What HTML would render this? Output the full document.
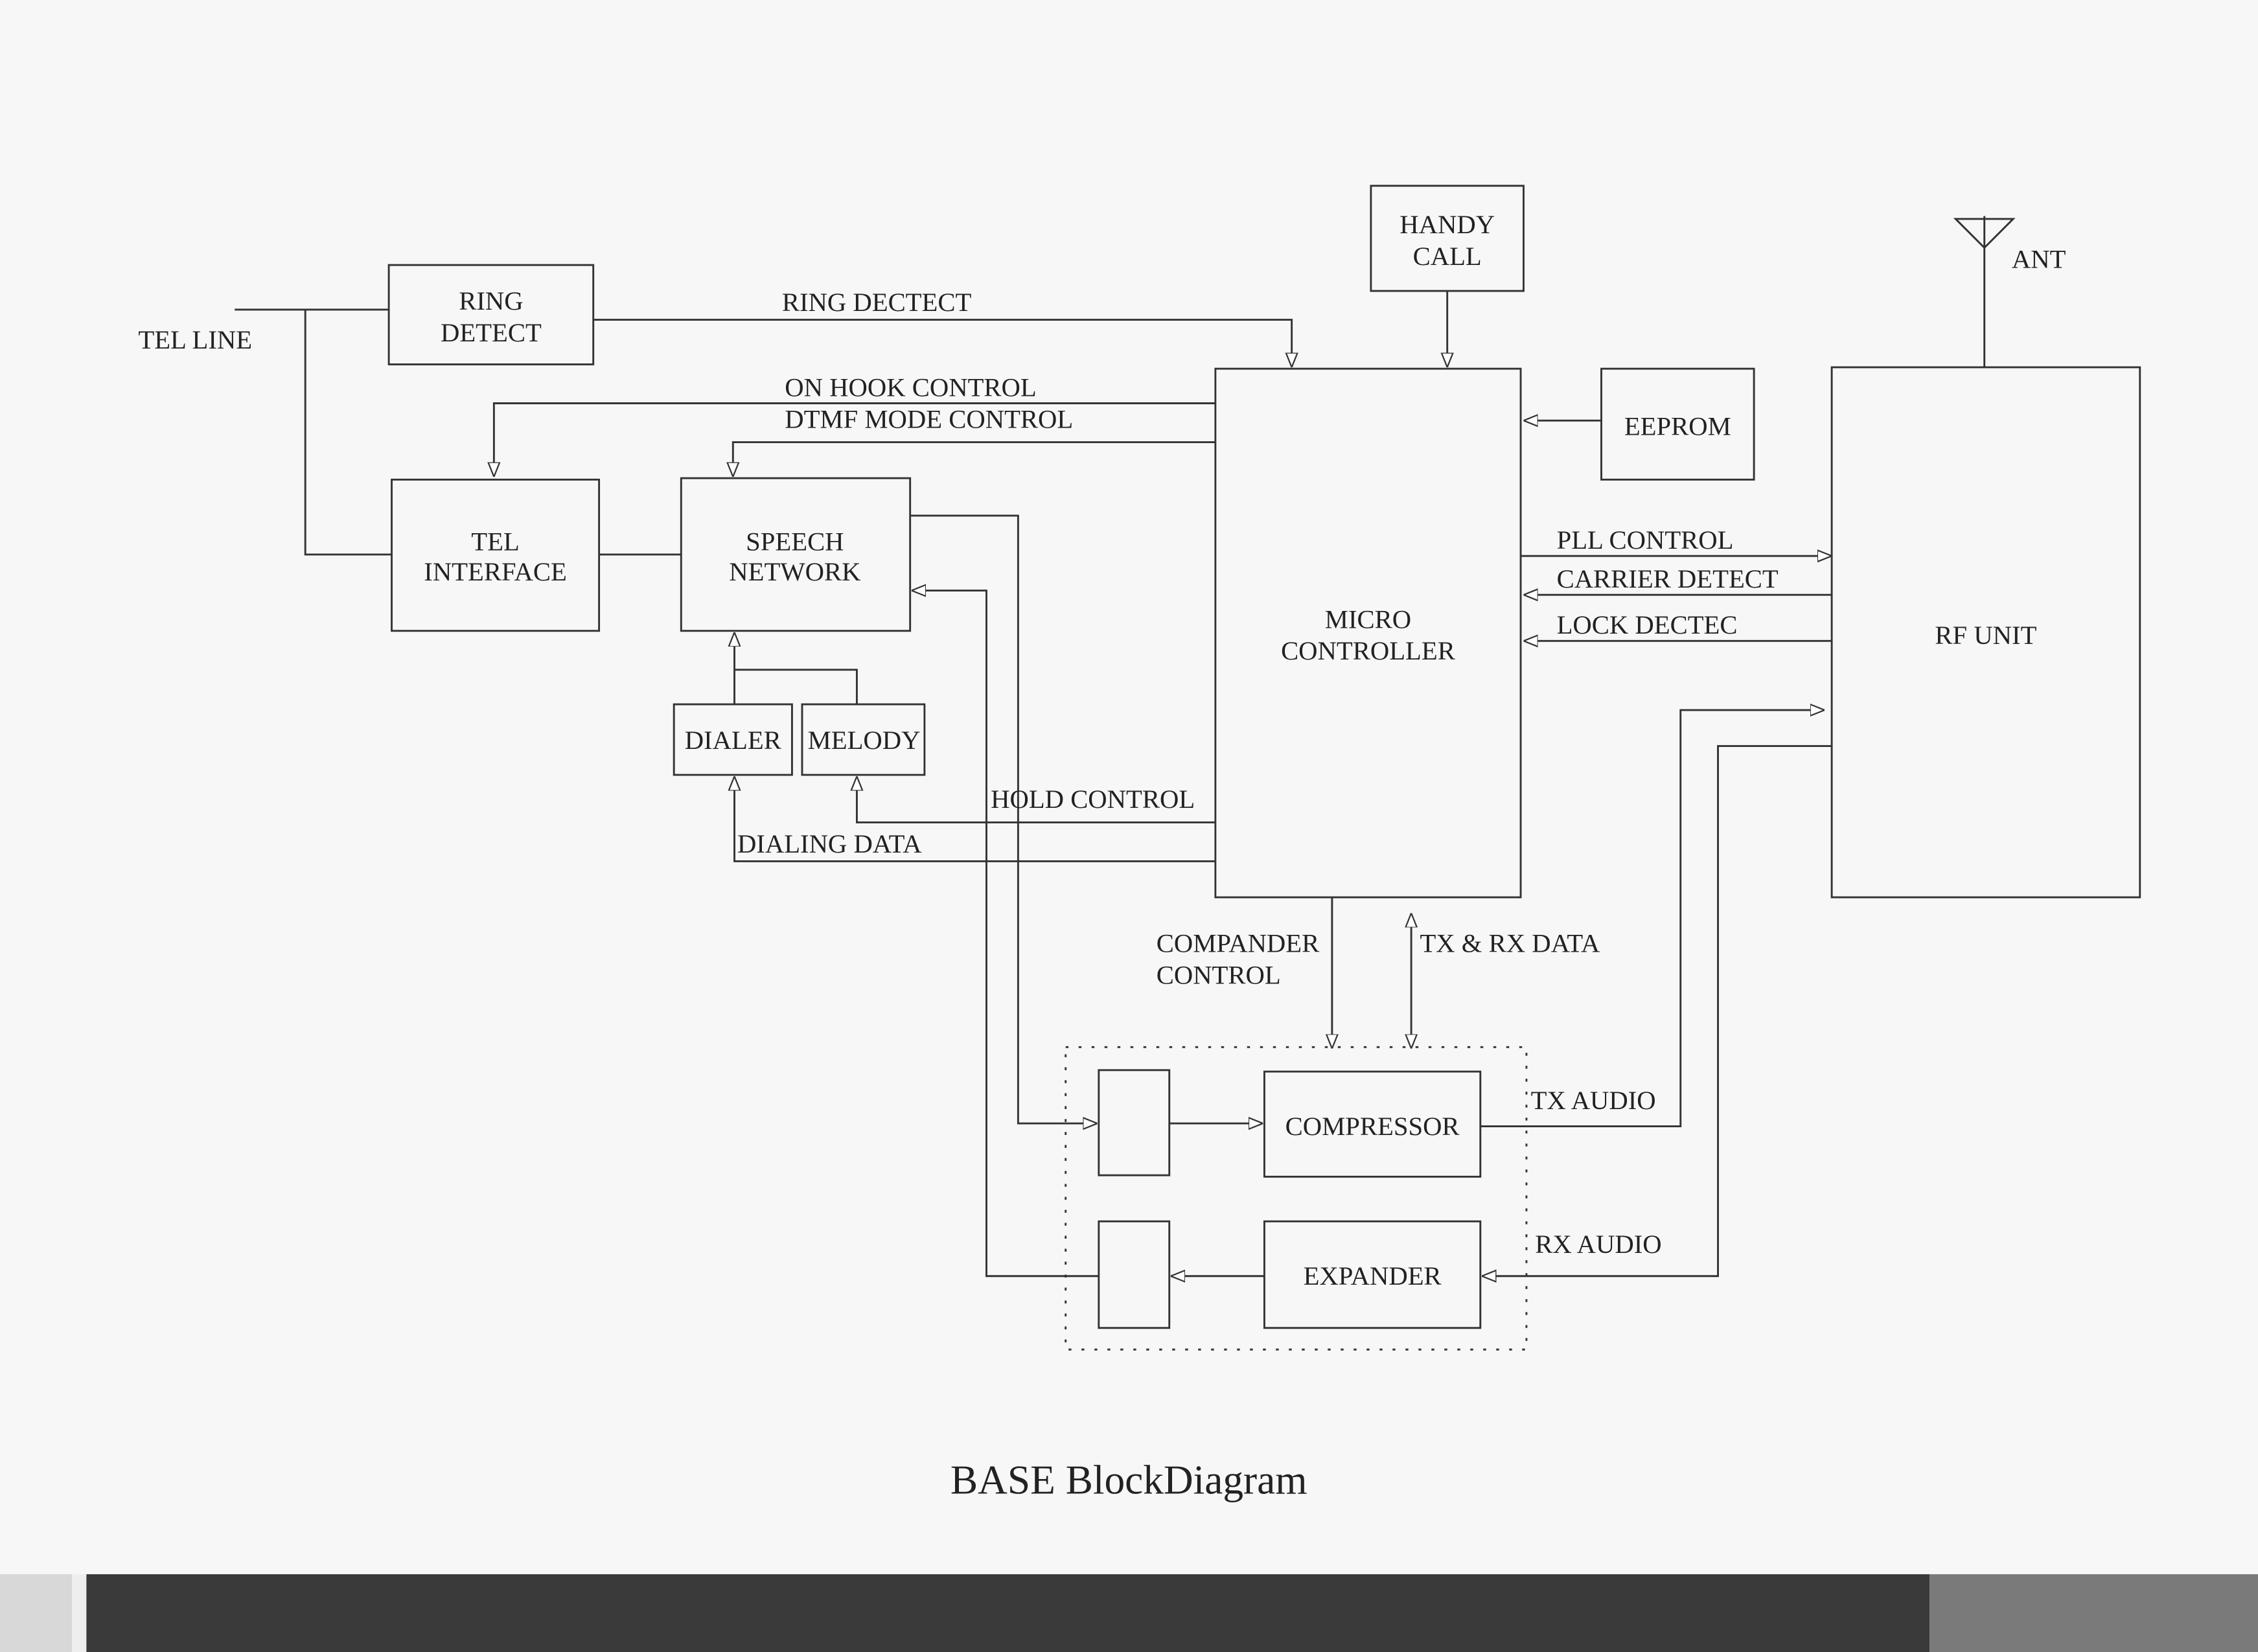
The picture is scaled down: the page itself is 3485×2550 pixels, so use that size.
<!DOCTYPE html>
<html><head><style>html,body{margin:0;padding:0;background:#f7f7f7}svg{display:block}</style></head>
<body>
<svg width="3485" height="2550" viewBox="0 0 1568 1147" preserveAspectRatio="none" xmlns="http://www.w3.org/2000/svg" font-family="Liberation Serif, serif" font-size="18.3" fill="#222">
<defs>
<marker id="a" viewBox="0 0 10 10" refX="10" refY="5" markerWidth="10" markerHeight="10" markerUnits="userSpaceOnUse" orient="auto"><path d="M0,1 L10,5 L0,9 Z" fill="#fff" stroke="#333" stroke-width="1"/></marker>
<marker id="b" viewBox="0 0 10 10" refX="0" refY="5" markerWidth="10" markerHeight="10" markerUnits="userSpaceOnUse" orient="auto"><path d="M10,1 L0,5 L10,9 Z" fill="#fff" stroke="#333" stroke-width="1"/></marker>
</defs>
<rect width="1568" height="1147" fill="#f7f7f7"/>
<g fill="none" stroke="#333" stroke-width="1.3">
<rect x="270" y="184" width="142" height="69"/>
<rect x="952" y="129" width="106" height="73"/>
<rect x="844" y="256" width="212" height="367"/>
<rect x="1112" y="256" width="106" height="77"/>
<rect x="1272" y="255" width="214" height="368"/>
<rect x="272" y="333" width="144" height="105"/>
<rect x="473" y="332" width="159" height="106"/>
<rect x="468" y="489" width="82" height="49"/>
<rect x="557" y="489" width="85" height="49"/>
<rect x="763" y="743" width="49" height="73"/>
<rect x="878" y="744" width="150" height="73"/>
<rect x="763" y="848" width="49" height="74"/>
<rect x="878" y="848" width="150" height="74"/>
<rect x="740" y="727" width="320" height="210" stroke-dasharray="2,7"/>
<path d="M163,215 H270 M212,215 V385 H272 M416,385 H473"/>
<path d="M412,222 H897 V255" marker-end="url(#a)"/>
<path d="M1005,202 V255" marker-end="url(#a)"/>
<path d="M1112,292 H1058" marker-end="url(#a)"/>
<path d="M1378,150 V255 M1358,152 L1398,152 L1378,172 Z"/>
<path d="M1056,386 H1272" marker-end="url(#a)"/>
<path d="M1272,413 H1058" marker-end="url(#a)"/>
<path d="M1272,445 H1058" marker-end="url(#a)"/>
<path d="M844,280 H343 V331" marker-end="url(#a)"/>
<path d="M844,307 H509 V331" marker-end="url(#a)"/>
<path d="M632,358 H707 V780 H762" marker-end="url(#a)"/>
<path d="M763,886 H685 V410 H633" marker-end="url(#a)"/>
<path d="M510,489 V439" marker-end="url(#a)"/>
<path d="M510,465 H595 V489"/>
<path d="M844,571 H595 V539" marker-end="url(#a)"/>
<path d="M844,598 H510 V539" marker-end="url(#a)"/>
<path d="M925,623 V728" marker-end="url(#a)"/>
<path d="M980,634 V728" marker-start="url(#b)" marker-end="url(#a)"/>
<path d="M812,780 H877" marker-end="url(#a)"/>
<path d="M878,886 H813" marker-end="url(#a)"/>
<path d="M1028,782 H1167 V493 H1267" marker-end="url(#a)"/>
<path d="M1272,518 H1193 V886 H1029" marker-end="url(#a)"/>
</g>
<g text-anchor="middle">
<text x="341" y="215">RING</text><text x="341" y="237">DETECT</text>
<text x="1005" y="162">HANDY</text><text x="1005" y="184">CALL</text>
<text x="1165" y="302">EEPROM</text>
<text x="1379" y="447">RF UNIT</text>
<text x="950" y="436">MICRO</text><text x="950" y="458">CONTROLLER</text>
<text x="344" y="382">TEL</text><text x="344" y="403">INTERFACE</text>
<text x="552" y="382">SPEECH</text><text x="552" y="403">NETWORK</text>
<text x="509" y="520">DIALER</text>
<text x="600" y="520">MELODY</text>
<text x="953" y="788">COMPRESSOR</text>
<text x="953" y="892">EXPANDER</text>
</g>
<text x="96" y="242">TEL LINE</text>
<text x="543" y="216">RING DECTECT</text>
<text x="1397" y="186">ANT</text>
<text x="545" y="275">ON HOOK CONTROL</text>
<text x="545" y="297">DTMF MODE CONTROL</text>
<text x="1081" y="381">PLL CONTROL</text>
<text x="1081" y="408">CARRIER DETECT</text>
<text x="1081" y="440">LOCK DECTEC</text>
<text x="688" y="561">HOLD CONTROL</text>
<text x="512" y="592">DIALING DATA</text>
<text x="803" y="661">COMPANDER</text><text x="803" y="683">CONTROL</text>
<text x="986" y="661">TX &amp; RX DATA</text>
<text x="1063" y="770">TX AUDIO</text>
<text x="1066" y="870">RX AUDIO</text>
<text x="660" y="1037" font-size="28.5">BASE BlockDiagram</text>
<rect x="0" y="1093" width="50" height="54" fill="#d8d8d8"/>
<rect x="50" y="1093" width="10" height="54" fill="#eee"/>
<rect x="60" y="1093" width="1280" height="54" fill="#3a3a3a"/>
<rect x="1340" y="1093" width="228" height="54" fill="#7a7a7a"/>
</svg>
</body></html>
